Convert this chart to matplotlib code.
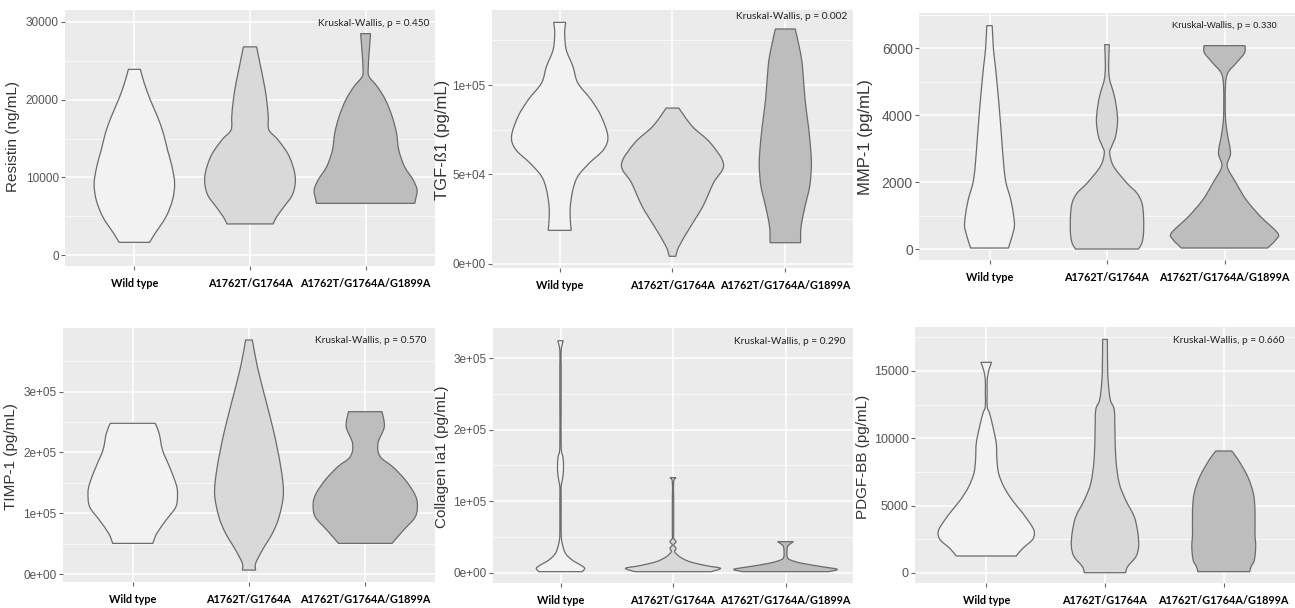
import matplotlib.pyplot as plt
from matplotlib.ticker import FixedLocator
from matplotlib.path import Path
from matplotlib.patches import PathPatch

groups = ['Wild type', 'A1762T/G1764A', 'A1762T/G1764A/G1899A']

# violin outlines: y value and half width (category units)
resistin_y = [[1630, 2800, 4900, 7100, 9200, 11400, 13500, 15700, 17800, 19960, 22100, 23900],
              [4000, 4900, 6200, 7900, 10100, 12700, 14800, 16100, 17800, 20000, 22100, 24250, 26800],
              [6650, 7080, 8370, 9660, 11400, 13500, 15700, 17800, 19960, 21700, 23000, 24200, 26400, 28500]]
resistin_w = [[0.132, 0.18, 0.273, 0.33, 0.348, 0.325, 0.287, 0.25, 0.2, 0.138, 0.086, 0.052],
              [0.2, 0.23, 0.293, 0.371, 0.391, 0.339, 0.244, 0.164, 0.158, 0.144, 0.121, 0.092, 0.057],
              [0.425, 0.431, 0.445, 0.411, 0.336, 0.287, 0.267, 0.23, 0.172, 0.1, 0.029, 0.023, 0.032, 0.043]]

tgf_y = [[18800, 24800, 32200, 41500, 49000, 56400, 63900, 71300, 82500, 91800, 101100, 110400, 119700, 129000, 135000],
         [4300, 9900, 21000, 32200, 45300, 55500, 67600, 76900, 87100],
         [11900, 21000, 32200, 43400, 54600, 63900, 76900, 91800, 110400, 119700, 131300]]
tgf_w = [[0.102, 0.094, 0.094, 0.117, 0.161, 0.263, 0.389, 0.427, 0.368, 0.278, 0.161, 0.117, 0.058, 0.044, 0.053],
         [0.029, 0.058, 0.161, 0.269, 0.363, 0.453, 0.336, 0.175, 0.056],
         [0.135, 0.14, 0.175, 0.216, 0.231, 0.225, 0.205, 0.175, 0.152, 0.129, 0.088]]

mmp_y = [[30, 378, 677, 975, 1473, 1970, 2468, 3463, 4458, 5453, 5950, 6668],
         [0, 179, 478, 975, 1373, 1672, 1970, 2468, 2866, 3065, 3363, 3811, 4259, 4657, 5055, 5453, 6100],
         [30, 279, 478, 975, 1473, 1970, 2468, 2866, 3463, 3960, 4856, 5254, 5552, 5851, 6070]]
mmp_w = [[0.161, 0.192, 0.212, 0.206, 0.181, 0.141, 0.122, 0.1, 0.077, 0.05, 0.034, 0.023],
         [0.268, 0.297, 0.311, 0.311, 0.297, 0.254, 0.169, 0.056, 0.023, 0.04, 0.073, 0.09, 0.079, 0.056, 0.023, 0.014, 0.02],
         [0.367, 0.438, 0.452, 0.305, 0.184, 0.099, 0.023, 0.051, 0.023, 0.008, 0.008, 0.028, 0.1, 0.17, 0.175]]

timp_y = [[50500, 66900, 88800, 110700, 132700, 149000, 176500, 204000, 231400, 247900],
          [6600, 17600, 39500, 66900, 94300, 132700, 176500, 231400, 286200, 341000, 384900],
          [50500, 72400, 94300, 116200, 132700, 154600, 176500, 193000, 214900, 242300, 267000]]
timp_w = [[0.172, 0.207, 0.287, 0.371, 0.385, 0.371, 0.316, 0.256, 0.227, 0.193],
          [0.057, 0.057, 0.115, 0.201, 0.259, 0.296, 0.273, 0.216, 0.144, 0.072, 0.029],
          [0.23, 0.33, 0.431, 0.448, 0.422, 0.345, 0.236, 0.129, 0.109, 0.164, 0.144]]

col_y = [[1800, 6500, 11200, 18100, 27500, 41400, 55400, 101900, 120400, 134400, 148300, 162300, 176200, 241400, 287900, 311100, 324100],
         [1800, 6500, 10200, 15800, 22700, 29700, 34400, 39100, 43700, 48400, 55400, 101900, 127400, 133000],
         [1800, 5100, 8800, 13500, 18100, 22700, 34400, 39100, 43700]]
col_w = [[0.192, 0.215, 0.177, 0.103, 0.044, 0.015, 0.006, 0.006, 0.006, 0.021, 0.027, 0.021, 0.006, 0.006, 0.006, 0.006, 0.024],
         [0.339, 0.422, 0.295, 0.147, 0.059, 0.015, 0.027, 0.006, 0.027, 0.006, 0.006, 0.006, 0.006, 0.027],
         [0.383, 0.46, 0.324, 0.147, 0.044, 0.015, 0.015, 0.029, 0.071]]

pdgf_y = [[1262, 1834, 2450, 2948, 3438, 4433, 5421, 6410, 7403, 8391, 9630, 10864, 11858, 12350, 13342, 14332, 15074, 15646],
          [22, 468, 1210, 1953, 2948, 4181, 5421, 6660, 8391, 10373, 12104, 12847, 14086, 15320, 17350],
          [97, 468, 965, 1953, 2948, 4678, 5918, 7151, 8391, 9059]]
pdgf_w = [[0.252, 0.308, 0.387, 0.406, 0.387, 0.308, 0.218, 0.148, 0.104, 0.09, 0.084, 0.056, 0.028, 0.008, 0.008, 0.008, 0.022, 0.045],
          [0.174, 0.19, 0.26, 0.283, 0.277, 0.246, 0.174, 0.12, 0.092, 0.084, 0.078, 0.045, 0.028, 0.022, 0.02],
          [0.218, 0.23, 0.258, 0.269, 0.263, 0.263, 0.249, 0.202, 0.123, 0.067]]

ylabels = ['Resistin (ng/mL)', 'TGF-ß1 (pg/mL)', 'MMP-1 (pg/mL)',
           'TIMP-1 (pg/mL)', 'Collagen Ia1 (pg/mL)', 'PDGF-BB (pg/mL)']
pvalues = ['0.450', '0.002', '0.330', '0.570', '0.290', '0.660']
yticks = [[0, 10000, 20000, 30000], [0, 50000, 100000], [0, 2000, 4000, 6000],
          [0, 100000, 200000, 300000], [0, 100000, 200000, 300000], [0, 5000, 10000, 15000]]
yticklabels = [['0', '10000', '20000', '30000'], ['0e+00', '5e+04', '1e+05'], ['0', '2000', '4000', '6000'],
               ['0e+00', '1e+05', '2e+05', '3e+05'], ['0e+00', '1e+05', '2e+05', '3e+05'],
               ['0', '5000', '10000', '15000']]
profiles_y = [resistin_y, tgf_y, mmp_y, timp_y, col_y, pdgf_y]
profiles_w = [resistin_w, tgf_w, mmp_w, timp_w, col_w, pdgf_w]

# layout
W, H = 1295, 608
boxes = [(65, 10, 435, 266), (492, 10, 853, 268), (919, 13, 1295, 260),
         (63, 328, 435, 582), (493, 328, 853, 583), (915, 327, 1295, 583)]
ylims = [(-1416, 31545), (-2235, 141900), (-328, 7045),
         (-13000, 404600), (-14000, 341900), (-743, 18267)]
ptext = [(0.986, 0.949), (0.983, 0.973), (0.952, 0.951),
         (0.976, 0.949), (0.978, 0.949), (0.971, 0.949)]
ylab_pos = [(-0.122, 0.504), (-0.116, 0.496), (-0.122, 0.498),
            (-0.121, 0.492), (-0.122, 0.494), (-0.118, 0.492)]
tick_size = [8.5, 8.5, 10, 8.5, 8.5, 9]
ylab_size = [11, 12, 12, 11, 11, 11]
fills = ['#f2f2f2', '#d9d9d9', '#bdbdbd']


def side_curve(pts):
    # smooth outline through the read points (Catmull-Rom drawn as cubic Beziers)
    verts, codes = [], []
    n = len(pts)
    for k in range(n - 1):
        p0 = pts[max(k - 1, 0)]
        p1 = pts[k]
        p2 = pts[k + 1]
        p3 = pts[min(k + 2, n - 1)]
        c1 = (p1[0] + (p2[0] - p0[0]) / 6, p1[1] + (p2[1] - p0[1]) / 6)
        c2 = (p2[0] - (p3[0] - p1[0]) / 6, p2[1] - (p3[1] - p1[1]) / 6)
        verts += [c1, c2, p2]
        codes += [Path.CURVE4] * 3
    return verts, codes


def violin(ax, pos, ys, ws, color):
    right = [(pos + w, y) for y, w in zip(ys, ws)]
    left = [(pos - w, y) for y, w in zip(ys, ws)][::-1]
    verts = [right[0]]
    codes = [Path.MOVETO]
    v, c = side_curve(right)
    verts += v
    codes += c
    verts.append(left[0])
    codes.append(Path.LINETO)
    v, c = side_curve(left)
    verts += v
    codes += c
    verts.append(right[0])
    codes.append(Path.CLOSEPOLY)
    ax.add_patch(PathPatch(Path(verts, codes), facecolor=color, edgecolor='#6b6b6b',
                           linewidth=0.9, zorder=3))


fig = plt.figure(figsize=(W / 100, H / 100), dpi=100)
for i in range(6):
    x0, y0, x1, y1 = boxes[i]
    ax = fig.add_axes([x0 / W, 1 - y1 / H, (x1 - x0) / W, (y1 - y0) / H])
    ax.set_facecolor('#ebebeb')
    for s in ax.spines.values():
        s.set_visible(False)

    for j in range(3):
        violin(ax, j + 1, profiles_y[i][j], profiles_w[i][j], fills[j])

    ax.set_xlim(0.4, 3.6)
    ax.set_ylim(*ylims[i])
    ax.set_xticks([1, 2, 3])
    ax.set_xticklabels(groups, fontfamily='Lato', fontweight='bold', fontsize=7.8, color='black')
    ax.set_yticks(yticks[i])
    ax.set_yticklabels(yticklabels[i], fontfamily='Liberation Sans', fontsize=tick_size[i], color='#555555')
    ys = yticks[i]
    step = ys[1] - ys[0]
    minors = [v + step / 2 for v in ys if ylims[i][0] < v + step / 2 < ylims[i][1]]
    ax.yaxis.set_minor_locator(FixedLocator(minors))
    ax.grid(which='major', color='white', linewidth=1.1, zorder=0)
    ax.grid(which='minor', axis='y', color='white', linewidth=0.5, zorder=0)
    ax.set_axisbelow(True)
    ax.tick_params(axis='both', which='major', length=3, width=0.8, color='#666666', pad=1.5)
    ax.tick_params(axis='x', pad=5.5)
    ax.tick_params(which='minor', length=0)

    ax.set_ylabel(ylabels[i], fontfamily='Liberation Sans', fontsize=ylab_size[i], color='#333333')
    ax.yaxis.set_label_coords(*ylab_pos[i])

    fam = 'Liberation Sans' if i == 2 else 'Lato'
    ax.text(ptext[i][0], ptext[i][1], 'Kruskal-Wallis, p = ' + pvalues[i], transform=ax.transAxes,
            ha='right', va='center', fontsize=6.8 if i == 2 else 7.3, fontfamily=fam, color='#222222')

fig.savefig('out.png', dpi=100)
